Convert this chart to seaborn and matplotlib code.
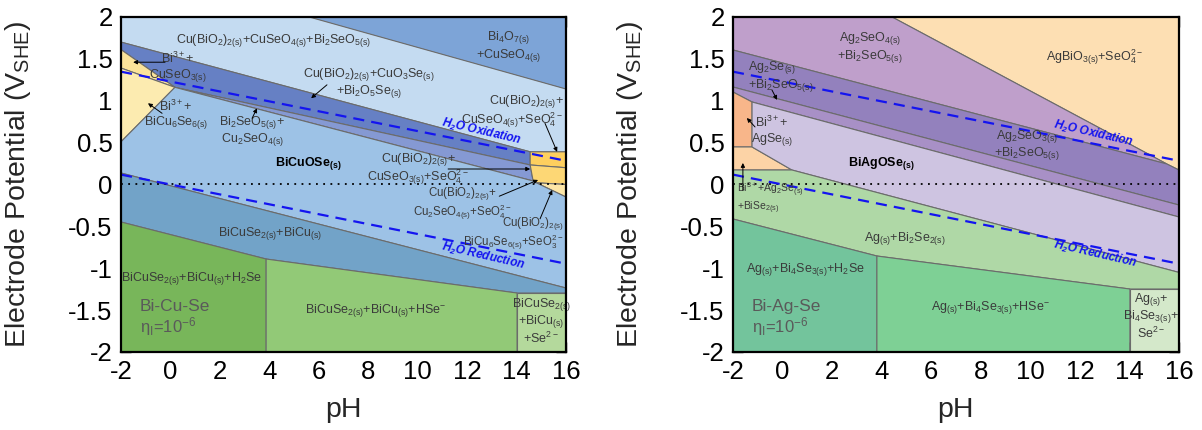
import matplotlib
matplotlib.use("Agg")
import matplotlib.pyplot as plt
from matplotlib.patches import Polygon
from matplotlib.ticker import MultipleLocator
import seaborn as sns

# ---------------------------------------------------------------
# Water stability lines (pH, E / V_SHE)
PH_WATER = [-2, 16]
E_H2O_OX = [1.347, 0.283]
E_H2O_RED = [0.118, -0.946]

# Axis ticks
PH_TICKS = [-2, 0, 2, 4, 6, 8, 10, 12, 14, 16]
E_TICKS = [-2, -1.5, -1, -0.5, 0, 0.5, 1, 1.5, 2]
E_TICK_LABELS = ["-2", "-1.5", "-1", "-0.5", "0", "0.5", "1", "1.5", "2"]

# ---------------------------------------------------------------
# Bi-Cu-Se stability domains, vertices as (pH, E)
CU_BI4O7 = [(5.61, 2.0), (16, 2.0), (16, 1.14)]
CU_BIO2_CUSEO4_BI2SEO5 = [(-2, 2.0), (5.61, 2.0), (16, 1.14), (16, 0.39),
                          (14.55, 0.39), (-2, 1.70)]
CU_BIO2_CUO3SE = [(-2, 1.70), (14.55, 0.39), (14.55, 0.233), (0.18, 1.16),
                  (-2, 1.61)]
CU_BI3_CUSEO3 = [(-2, 1.61), (0.18, 1.16), (-2, 1.39)]
CU_BI3_BICU6SE6 = [(-2, 1.39), (0.18, 1.16), (-2, 0.51)]
CU_BI2SEO5_CU2SEO4 = [(0.18, 1.16), (14.55, 0.233), (14.67, 0.042)]
CU_CUSEO4_SEO4 = [(14.55, 0.39), (16, 0.39), (16, 0.20), (14.55, 0.233)]
CU_CUSEO3_SEO4 = [(14.55, 0.233), (16, 0.20), (16, 0.0), (14.8, 0.02),
                  (14.67, 0.042)]
CU_BICU6SE6_SEO3 = [(14.8, 0.02), (16, 0.0), (16, -0.15)]
CU_BICUOSE = [(-2, 0.51), (0.18, 1.16), (14.67, 0.042), (14.8, 0.02),
              (16, -0.15), (16, -1.236), (-2, 0.137)]
CU_BICUSE2_BICU = [(-2, 0.137), (16, -1.236), (16, -1.296), (14.02, -1.296),
                   (3.87, -0.89), (-2, -0.448)]
CU_H2SE = [(-2, -0.448), (3.87, -0.89), (3.87, -2), (-2, -2)]
CU_HSE = [(3.87, -0.89), (14.02, -1.296), (14.02, -2), (3.87, -2)]
CU_SE2 = [(14.02, -1.296), (16, -1.296), (16, -2), (14.02, -2)]

# ---------------------------------------------------------------
# Bi-Ag-Se stability domains, vertices as (pH, E)
AG_AGBIO3 = [(4.42, 2.0), (16, 2.0), (16, 0.173), (15.51, 0.245)]
AG_AG2SEO4 = [(-2, 2.0), (4.42, 2.0), (15.51, 0.245), (-2, 1.606)]
AG_AG2SEO3 = [(-2, 1.606), (15.51, 0.245), (16, 0.173), (16, -0.245),
              (-2, 1.164)]
AG_AG2SE_BI2SEO5 = [(-2, 1.164), (16, -0.245), (16, -0.388), (-1.23, 0.985),
                    (-2, 1.104)]
AG_BI3_AGSE = [(-2, 1.104), (-1.23, 0.985), (-1.23, 0.448), (-2, 0.448)]
AG_BI3_AG2SE = [(-2, 0.448), (-1.23, 0.448), (0.38, 0.173), (-2, 0.173)]
AG_BIAGOSE = [(-1.23, 0.985), (16, -0.388), (16, -1.05), (0.38, 0.173),
              (-1.23, 0.448)]
AG_BI2SE2 = [(-2, 0.173), (0.38, 0.173), (16, -1.05), (16, -1.248),
             (14.02, -1.248), (3.81, -0.854), (-2, -0.412)]
AG_H2SE = [(-2, -0.412), (3.81, -0.854), (3.81, -2), (-2, -2)]
AG_HSE = [(3.81, -0.854), (14.02, -1.248), (14.02, -2), (3.81, -2)]
AG_SE2 = [(14.02, -1.248), (16, -1.248), (16, -2), (14.02, -2)]

# ---------------------------------------------------------------
sns.set_theme(style="ticks")
plt.rcParams["font.family"] = ["Liberation Sans", "DejaVu Sans"]
plt.rcParams["mathtext.default"] = "regular"

EDGE = "#6b6b6b"
LABEL_C = "#3a3a3a"
WATER_C = "#1414f0"

cu_regions = [
    (CU_BI4O7, "#7da4d7"),
    (CU_BIO2_CUSEO4_BI2SEO5, "#c4dbf1"),
    (CU_BIO2_CUO3SE, "#6680c4"),
    (CU_BI3_CUSEO3, "#fbe39a"),
    (CU_BI3_BICU6SE6, "#fcebb0"),
    (CU_BI2SEO5_CU2SEO4, "#8599d3"),
    (CU_CUSEO4_SEO4, "#fecf5e"),
    (CU_CUSEO3_SEO4, "#fdd775"),
    (CU_BICU6SE6_SEO3, "#fde6a6"),
    (CU_BICUOSE, "#9dc2e6"),
    (CU_BICUSE2_BICU, "#72a3c8"),
    (CU_H2SE, "#78b65a"),
    (CU_HSE, "#92c977"),
    (CU_SE2, "#b4d99c"),
]

ag_regions = [
    (AG_AGBIO3, "#fddfb3"),
    (AG_AG2SEO4, "#bf9fcb"),
    (AG_AG2SEO3, "#9381bd"),
    (AG_AG2SE_BI2SEO5, "#a890c6"),
    (AG_BI3_AGSE, "#f8b68a"),
    (AG_BI3_AG2SE, "#fcd3a6"),
    (AG_BIAGOSE, "#cec4e1"),
    (AG_BI2SE2, "#afd8a6"),
    (AG_H2SE, "#73c49c"),
    (AG_HSE, "#7ed095"),
    (AG_SE2, "#d4e8ca"),
]

# (pH, E, text, ha, extra style)
cu_labels = [
    (4.19, 1.72, r"Cu(BiO$_2$)$_{2(s)}$+CuSeO$_{4(s)}$+Bi$_2$SeO$_{5(s)}$", "center", {}),
    (13.66, 1.65, "Bi$_4$O$_{7(s)}$\n+CuSeO$_{4(s)}$", "center", {}),
    (8.03, 1.21, "Cu(BiO$_2$)$_{2(s)}$+CuO$_3$Se$_{(s)}$\n+Bi$_2$O$_5$Se$_{(s)}$", "center", {}),
    (0.31, 1.40, "Bi$^{3+}$+\nCuSeO$_{3(s)}$", "center", {}),
    (0.22, 0.83, "Bi$^{3+}$+\nBiCu$_6$Se$_{6(s)}$", "center", {}),
    (3.30, 0.64, "Bi$_2$SeO$_{5(s)}$+\nCu$_2$SeO$_{4(s)}$", "center", {}),
    (5.57, 0.25, "BiCuOSe$_{(s)}$", "center", {"fontweight": "bold", "color": "black"}),
    (15.9, 0.87, "Cu(BiO$_2$)$_{2(s)}$+\nCuSeO$_{4(s)}$+SeO$_4^{2-}$", "right", {}),
    (10.01, 0.185, "Cu(BiO$_2$)$_{2(s)}$+\nCuSeO$_{3(s)}$+SeO$_4^{2-}$", "center", {}),
    (11.8, -0.225, "Cu(BiO$_2$)$_{2(s)}$+\nCu$_2$SeO$_{4(s)}$+SeO$_4^{2-}$", "center", {"fontsize": 8.3}),
    (15.9, -0.59, "Cu(BiO$_2$)$_{2(s)}$\nBiCu$_6$Se$_{6(s)}$+SeO$_3^{2-}$", "right", {"fontsize": 8.3}),
    (4.03, -0.58, "BiCuSe$_{2(s)}$+BiCu$_{(s)}$", "center", {}),
    (0.87, -1.12, "BiCuSe$_{2(s)}$+BiCu$_{(s)}$+H$_2$Se", "center", {}),
    (8.32, -1.50, "BiCuSe$_{2(s)}$+BiCu$_{(s)}$+HSe$^{-}$", "center", {}),
    (14.99, -1.63, "BiCuSe$_{2(s)}$\n+BiCu$_{(s)}$\n+Se$^{2-}$", "center", {}),
]
# (tail pH, tail E, tip pH, tip E)
cu_arrows = [
    (6.33, 1.19, 5.69, 1.03),
    (-0.22, 1.46, -1.51, 1.46),
    (-0.34, 0.85, -0.91, 0.97),
    (3.30, 0.79, 3.50, 0.91),
    (15.15, 0.73, 15.64, 0.39),
    (11.23, 0.185, 14.55, 0.185),
    (13.3, -0.14, 14.87, 0.054),
    (14.95, -0.41, 15.44, -0.066),
]
cu_water = [(12.56, 0.627, "H$_2$O Oxidation"), (12.64, -0.854, "H$_2$O Reduction")]

ag_labels = [
    (3.53, 1.636, "Ag$_2$SeO$_{4(s)}$\n+Bi$_2$SeO$_{5(s)}$", "center", {}),
    (12.6, 1.52, "AgBiO$_{3(s)}$+SeO$_4^{2-}$", "center", {}),
    (-1.39, 1.29, "Ag$_2$Se$_{(s)}$\n+Bi$_2$SeO$_{5(s)}$", "left", {}),
    (9.86, 0.47, "Ag$_2$SeO$_{3(s)}$\n+Bi$_2$SeO$_{5(s)}$", "center", {}),
    (-0.43, 0.633, "Bi$^{3+}$+\nAgSe$_{(s)}$", "center", {}),
    (3.97, 0.25, "BiAgOSe$_{(s)}$", "center", {"fontweight": "bold", "color": "black"}),
    (-1.84, -0.17, "Bi$^{3+}$+Ag$_2$Se$_{(s)}$\n+BiSe$_{2(s)}$", "left", {"fontsize": 7.5}),
    (4.94, -0.64, "Ag$_{(s)}$+Bi$_2$Se$_{2(s)}$", "center", {}),
    (0.91, -1.02, "Ag$_{(s)}$+Bi$_4$Se$_{3(s)}$+H$_2$Se", "center", {}),
    (8.41, -1.47, "Ag$_{(s)}$+Bi$_4$Se$_{3(s)}$+HSe$^{-}$", "center", {}),
    (14.87, -1.57, "Ag$_{(s)}$+\nBi$_4$Se$_{3(s)}$+\nSe$^{2-}$", "center", {}),
]
ag_arrows = [
    (-0.43, 1.13, -0.22, 1.01),
    (-1.11, 0.687, -1.44, 0.794),
    (-1.6, -0.07, -1.6, 0.257),
]
ag_water = [(12.57, 0.60, "H$_2$O Oxidation"), (12.61, -0.83, "H$_2$O Reduction")]


def draw_panel(ax, regions, labels, arrows, water, system):
    for verts, color in regions:
        ax.add_patch(Polygon(verts, closed=True, facecolor=color,
                             edgecolor=EDGE, lw=0.8, zorder=1))

    ax.axhline(0, color="black", lw=1.3, ls=(0, (1, 3)), zorder=3)
    sns.lineplot(x=PH_WATER, y=E_H2O_OX, ax=ax, color=WATER_C, lw=1.6,
                 linestyle=(0, (5, 3.2)), zorder=4)
    sns.lineplot(x=PH_WATER, y=E_H2O_RED, ax=ax, color=WATER_C, lw=1.6,
                 linestyle=(0, (5, 3.2)), zorder=4)

    for x, y, txt, ha, extra in labels:
        style = dict(fontsize=9, color=LABEL_C, ha=ha, va="center",
                     multialignment=ha, linespacing=1.05, zorder=6)
        style.update(extra)
        ax.text(x, y, txt, **style)

    for x0, y0, x1, y1 in arrows:
        ax.annotate("", xy=(x1, y1), xytext=(x0, y0), zorder=7,
                    arrowprops=dict(arrowstyle="-|>", color="black", lw=0.7,
                                    mutation_scale=6, shrinkA=0, shrinkB=0))

    for x, y, txt in water:
        ax.text(x, y, txt, color=WATER_C, fontsize=8.5, fontweight="bold",
                fontstyle="italic", rotation=-13, rotation_mode="anchor",
                ha="center", va="center", zorder=6)

    ax.text(-1.23, -1.46, system, fontsize=12.5, color="#5a5a5a",
            ha="left", va="center", zorder=6)
    ax.text(-1.23, -1.70, "η$_I$=10$^{-6}$", fontsize=12, color="#5a5a5a",
            ha="left", va="center", zorder=6)

    ax.set_xlim(-2, 16)
    ax.set_ylim(-2, 2)
    ax.set_xticks(PH_TICKS)
    ax.set_xticklabels([str(v) for v in PH_TICKS])
    ax.xaxis.set_minor_locator(MultipleLocator(1))
    ax.set_yticks(E_TICKS)
    ax.set_yticklabels(E_TICK_LABELS)
    ax.yaxis.set_minor_locator(MultipleLocator(0.25))
    ax.tick_params(which="both", direction="in", top=True, right=True,
                   width=1.0, colors="black", labelsize=18.5, pad=6)
    ax.tick_params(which="major", length=7)
    ax.tick_params(which="minor", length=4)
    for sp in ax.spines.values():
        sp.set_linewidth(1.6)
        sp.set_color("black")
        sp.set_zorder(10)
    ax.set_xlabel("pH", fontsize=20.5)
    ax.set_ylabel("Electrode Potential (V$_{SHE}$)", fontsize=20.5)
    ax.xaxis.set_label_coords(0.5, -0.135)
    ax.yaxis.set_label_coords(-0.198, 0.5)


fig = plt.figure(figsize=(12.02, 4.30), dpi=100)
ax_cu = fig.add_axes([0.1007, 0.1814, 0.3702, 0.7791])
ax_ag = fig.add_axes([0.6098, 0.1814, 0.3710, 0.7791])

draw_panel(ax_cu, cu_regions, cu_labels, cu_arrows, cu_water, "Bi-Cu-Se")
draw_panel(ax_ag, ag_regions, ag_labels, ag_arrows, ag_water, "Bi-Ag-Se")

fig.savefig("out.png", dpi=100)
